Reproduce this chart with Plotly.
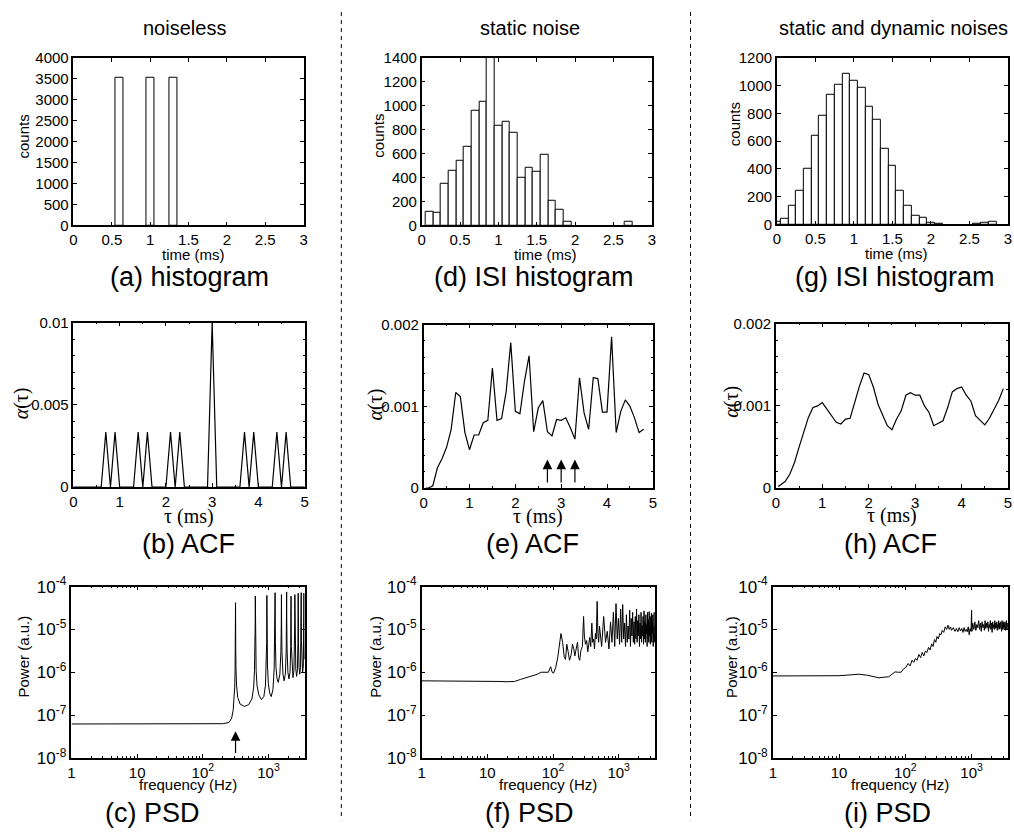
import plotly.graph_objects as go
import numpy as np

W, H = 1014, 840
SANS = "Liberation Sans, Arial, Helvetica, sans-serif"
SERIF = "Liberation Serif, Times New Roman, serif"

# ---------------- data ----------------
# (a) noiseless histogram
hist_a_t = [0.6, 1.0, 1.3]
hist_a_n = [3530, 3530, 3530]

# (d) static-noise ISI histogram
hist_d_t = [0.1, 0.2, 0.3, 0.4, 0.5, 0.6, 0.7, 0.8, 0.9, 1.0, 1.1, 1.2, 1.3, 1.4, 1.5,
            1.6, 1.7, 1.8, 1.9, 2.7]
hist_d_n = [114, 103, 345, 459, 535, 658, 957, 1030, 1400, 829, 862, 769, 397, 484, 443,
            590, 201, 130, 27, 27]

# (g) static + dynamic noise ISI histogram
hist_g_t = [0.0, 0.1, 0.2, 0.3, 0.4, 0.5, 0.6, 0.7, 0.8, 0.9, 1.0, 1.1, 1.2, 1.3, 1.4,
            1.5, 1.6, 1.7, 1.8, 1.9, 2.0, 2.1, 2.6, 2.7, 2.8]
hist_g_n = [15, 37, 136, 243, 402, 641, 781, 936, 1008, 1083, 1032, 982, 844, 753, 545,
            421, 243, 136, 65, 47, 12, 5, 6, 10, 17]

# (b) ACF noiseless
tau_b = [0.0, 0.1, 0.2, 0.3, 0.4, 0.5, 0.6, 0.7, 0.8, 0.9, 1.0, 1.1, 1.2, 1.3, 1.4, 1.5,
         1.6, 1.7, 1.8, 1.9, 2.0, 2.1, 2.2, 2.3, 2.4, 2.5, 2.6, 2.7, 2.8, 2.9, 3.0, 3.1,
         3.2, 3.3, 3.4, 3.5, 3.6, 3.7, 3.8, 3.9, 4.0, 4.1, 4.2, 4.3, 4.4, 4.5, 4.6, 4.7,
         4.8, 4.9, 5.0]
acf_b = [0, 0, 0, 0, 0, 0, 0, 0.00335, 0, 0.00335, 0, 0, 0, 0, 0.00335, 0,
         0.00335, 0, 0, 0, 0, 0.00335, 0, 0.00335, 0, 0, 0, 0, 0, 0, 0.01, 0,
         0, 0, 0, 0, 0, 0.00335, 0, 0.00335, 0, 0, 0, 0, 0.00335, 0, 0.00335, 0,
         0, 0, 0]

# (e) ACF static noise
tau_e = [0.05, 0.1, 0.2, 0.3, 0.4, 0.5, 0.6, 0.7, 0.8, 0.9, 1.0, 1.1, 1.2, 1.3, 1.4, 1.5,
         1.6, 1.7, 1.8, 1.9, 2.0, 2.1, 2.2, 2.3, 2.4, 2.5, 2.6, 2.7, 2.8, 2.9, 3.0, 3.1,
         3.2, 3.3, 3.4, 3.5, 3.6, 3.7, 3.8, 3.9, 4.0, 4.1, 4.2, 4.3, 4.4, 4.5, 4.6, 4.7, 4.8]
acf_e = [0, 0, 0.00003, 0.00025, 0.00036, 0.0005, 0.00072, 0.00117, 0.00112, 0.00068,
         0.00047, 0.00065, 0.00065, 0.0008, 0.00083, 0.00147, 0.00083, 0.00085, 0.00118,
         0.00178, 0.00094, 0.00091, 0.00131, 0.00162, 0.00069, 0.00098, 0.00107, 0.00069,
         0.00064, 0.00084, 0.00083, 0.00086, 0.00074, 0.0006, 0.00135, 0.00092, 0.00072,
         0.00135, 0.00134, 0.00093, 0.00093, 0.00185, 0.00068, 0.00094, 0.00108, 0.001,
         0.00086, 0.00068, 0.00072]
arrows_e_tau = [2.7, 3.0, 3.3]

# (h) ACF static + dynamic noise
tau_h = [0.05, 0.1, 0.2, 0.3, 0.4, 0.5, 0.6, 0.7, 0.8, 0.9, 1.0, 1.1, 1.2, 1.3, 1.4, 1.5,
         1.6, 1.7, 1.8, 1.9, 2.0, 2.1, 2.2, 2.3, 2.4, 2.5, 2.6, 2.7, 2.8, 2.9, 3.0, 3.1,
         3.2, 3.3, 3.4, 3.5, 3.6, 3.7, 3.8, 3.9, 4.0, 4.1, 4.2, 4.3, 4.4, 4.5, 4.6, 4.7,
         4.8, 4.9]
acf_h = [0.00002, 0.00004, 0.00008, 0.00017, 0.00031, 0.0005, 0.00067, 0.00086, 0.00098,
         0.001, 0.00104, 0.00096, 0.00087, 0.0008, 0.00078, 0.00084, 0.00085, 0.00106,
         0.00124, 0.0014, 0.00138, 0.00123, 0.00102, 0.00089, 0.00076, 0.00071, 0.00084,
         0.00094, 0.00113, 0.00116, 0.00113, 0.00113, 0.001, 0.00092, 0.00076, 0.00079,
         0.00082, 0.00098, 0.00117, 0.00121, 0.00123, 0.00113, 0.00106, 0.00088, 0.00082,
         0.00077, 0.00085, 0.00096, 0.00107, 0.00121]

# (c) PSD noiseless
psd_c_f = [1, 10, 100, 200, 250, 275, 290, 300, 306, 310, 313, 315, 317, 320, 326, 340, 370, 430,
           500, 560, 595, 612, 622, 627, 630, 633, 638, 648, 670, 710, 780,
           850, 900, 925, 938, 945, 952, 965, 995, 1040, 1100,
           1170, 1220, 1245, 1260, 1275, 1300, 1350, 1410,
           1490, 1545, 1565, 1575, 1585, 1605, 1660, 1730,
           1810, 1862, 1881, 1890, 1899, 1918, 1975, 2050,
           2130, 2180, 2197, 2205, 2213, 2230, 2290, 2360,
           2440, 2495, 2512, 2520, 2528, 2545, 2605, 2680,
           2760, 2810, 2827, 2835, 2843, 2860, 2920, 2990,
           3075, 3125, 3142, 3150, 3158, 3175, 3235, 3305,
           3390, 3440, 3457, 3465, 3473, 3490, 3520]
psd_c_p = [6.2e-8, 6.2e-8, 6.2e-8, 6.3e-8, 6.7e-8, 8.5e-8, 1.3e-7, 2.3e-7, 4.5e-7, 1.1e-6, 4e-6,
           4.2e-5, 4e-6, 1.2e-6, 5e-7, 2.6e-7, 1.8e-7, 1.6e-7,
           1.75e-7, 2.4e-7, 4.5e-7, 1.1e-6, 3.5e-6, 1.2e-5, 6e-5, 1.2e-5, 3.5e-6, 1.1e-6, 4.8e-7, 3e-7, 2.3e-7,
           2.7e-7, 5e-7, 1.4e-6, 5e-6, 6.2e-5, 5e-6, 1.4e-6, 5.5e-7, 3.3e-7, 2.7e-7,
           4e-7, 1.2e-6, 5e-6, 7.2e-5, 5e-6, 1.3e-6, 7e-7, 5.8e-7,
           9e-7, 3e-6, 1.2e-5, 6.5e-5, 1.2e-5, 3e-6, 9e-7, 6.3e-7,
           9.5e-7, 3.5e-6, 1.4e-5, 7.5e-5, 1.4e-5, 3.5e-6, 1e-6, 7e-7,
           1e-6, 4e-6, 1.5e-5, 6e-5, 1.5e-5, 4e-6, 1.1e-6, 7.5e-7,
           1.1e-6, 4.5e-6, 1.6e-5, 6.5e-5, 1.6e-5, 4.5e-6, 1.2e-6, 8e-7,
           1.2e-6, 5e-6, 1.8e-5, 7e-5, 1.8e-5, 5e-6, 1.3e-6, 9e-7,
           1.3e-6, 5.5e-6, 2e-5, 7.2e-5, 2e-5, 5.5e-6, 1.4e-6, 1e-6,
           1.4e-6, 6e-6, 2e-5, 7e-5, 2e-5, 6e-6, 2e-6]
arrow_c_f = 315

# (f) PSD static noise (power in units of 1e-6)
psd_f_f = [1, 5, 10, 15, 20, 26, 32, 40, 50, 58, 66, 75, 85, 92, 97, 102, 110, 118, 125, 132,
           140, 148, 155, 162, 170, 178, 188, 198, 207, 215, 225, 236, 245, 255, 265, 280, 292,
           300, 312, 325, 338, 350, 362, 375, 390, 402, 415, 428, 442, 455, 470, 482, 495,
           510, 550, 590, 630, 670, 710, 750, 790, 830, 870, 910, 950, 990, 1030, 1070, 1110,
           1150, 1190, 1230, 1270, 1310, 1350, 1390, 1430, 1470, 1510, 1550, 1590, 1630, 1670,
           1710, 1750, 1790, 1830, 1870, 1910, 1950, 1990, 2030, 2070, 2110, 2150, 2190, 2230,
           2270, 2310, 2350, 2390, 2430, 2470, 2510, 2550, 2590, 2630, 2670, 2710, 2750, 2790,
           2830, 2870, 2910, 2950, 2990, 3030, 3070, 3110, 3150, 3190, 3230, 3270, 3310, 3350,
           3390, 3430, 3470, 3510, 3550]
psd_f_uP = [0.63, 0.63, 0.63, 0.61, 0.60, 0.61, 0.68, 0.76, 0.82, 0.9, 1.0, 1.02, 1.0, 1.35,
            1.0, 0.95, 1.3, 2.2, 4, 8, 5, 2.3, 2, 4.5, 3, 1.9, 2.5, 4.5, 3.5, 2.4, 3.5, 5, 2.2,
            1.9, 3.2, 4, 20, 7, 4.5, 5.5, 3, 4.5, 6.5, 4, 14, 5, 6, 3.5, 8, 6, 45, 8, 5,
            12, 4, 20, 5, 9, 3.5, 15, 5, 25, 4, 40, 6, 18, 4.5, 30, 5, 38, 6, 14, 4,
            22, 5, 12, 6, 28, 4, 18, 7, 25, 5, 15, 4.5, 20, 6, 30, 5, 16, 7, 22, 4,
            14, 6, 25, 5, 12, 7, 20, 4.5, 27, 6, 15, 5, 22, 8, 13, 4, 25, 6, 17, 5,
            26, 7, 12, 4.5, 20, 6, 24, 5, 14, 8, 22, 4, 18, 6, 25, 5, 12]

# (i) PSD static + dynamic noise (power in units of 1e-6)
psd_i_f = [1, 5, 10, 15, 20, 27, 33, 40, 48, 56, 63, 70, 78, 86, 94, 102, 110, 118, 126, 134,
           142, 150, 160, 170, 180, 190, 200, 212, 224, 236, 250, 262, 275, 288, 300, 315, 330,
           345, 360, 380, 400, 420, 440, 460, 480, 500, 530, 560, 590, 620, 650, 680, 710, 740,
           770, 800, 830, 860, 890, 920, 950, 980, 1000, 1010,
           1040, 1080, 1120, 1160, 1200, 1240, 1280, 1320, 1360, 1400, 1440, 1480, 1520, 1560,
           1600, 1640, 1680, 1720, 1760, 1800, 1840, 1880, 1920, 1960, 2000, 2040, 2080, 2120,
           2160, 2200, 2240, 2280, 2320, 2360, 2400, 2440, 2480, 2520, 2560, 2600, 2640, 2680,
           2720, 2760, 2800, 2840, 2880, 2920, 2960, 3000, 3040, 3080, 3120, 3160, 3200, 3240,
           3280, 3320, 3360, 3400, 3440, 3480, 3520, 3560]
psd_i_uP = [0.82, 0.82, 0.83, 0.87, 0.9, 0.85, 0.78, 0.74, 0.77, 0.78, 0.9, 1.02, 1.0, 1.0,
            1.2, 1.3, 1.6, 1.4, 1.9, 1.7, 2.1, 1.9, 2.6, 2.2, 2.9, 2.4, 3.1, 2.9, 3.8, 3.3,
            4.6, 4, 5.8, 5, 6.8, 6, 8, 7.5, 9.5, 8.5, 11.5, 10, 12.5, 10, 11.5, 9.5, 11, 9,
            10.5, 8.8, 11, 9.2, 10.5, 8.5, 11, 9, 10, 8.8, 11.5, 7.5, 10.5, 9, 28, 9,
            14, 10, 15, 9.5, 13, 11, 16, 10, 14, 9, 15, 11, 13, 9.5, 16, 10.5, 14, 11, 15, 9,
            13, 11, 16, 10, 14, 8.5, 15, 11, 13, 10, 16, 10.5, 14, 11, 15, 9.5, 13, 11, 16, 10,
            14, 10.5, 15, 11, 13, 9, 16, 10, 14, 11, 15, 10, 13, 11, 15, 9.5, 14, 11, 16, 10,
            14, 11, 13, 10]

# ---------------- layout helpers ----------------
def dom_x(x0, x1):
    return [x0 / W, x1 / W]

def dom_y(y0, y1):
    return [1 - y1 / H, 1 - y0 / H]

def axis(**kw):
    base = dict(showline=True, linecolor="black", linewidth=1.5, mirror="allticks",
                ticks="inside", ticklen=4, tickwidth=1, tickcolor="black",
                showgrid=False, zeroline=False,
                tickfont=dict(family=SANS, size=15, color="black"))
    base.update(kw)
    return base

panels = {
    1: ([70, 302], [47, 219]),
    2: ([421, 653], [47, 219]),
    3: ([779, 1012], [47, 218]),
    4: ([70, 303], [319, 488]),
    5: ([423, 654], [321, 489]),
    6: ([778, 1012], [320, 489]),
    7: ([68, 303], [590, 766]),
    8: ([421, 656], [590, 766]),
    9: ([775, 1012], [590, 766]),
}

fig = go.Figure()

def ids(k):
    return ("x" if k == 1 else f"x{k}"), ("y" if k == 1 else f"y{k}")

bar_style = dict(marker=dict(color="white", line=dict(color="black", width=1)), width=0.1)
line_style = dict(mode="lines", line=dict(color="black", width=1.2))

for k, (tx, ny) in zip([1, 2, 3], [(hist_a_t, hist_a_n), (hist_d_t, hist_d_n), (hist_g_t, hist_g_n)]):
    xa, ya = ids(k)
    fig.add_trace(go.Bar(x=tx, y=ny, xaxis=xa, yaxis=ya, **bar_style))

for k, (tx, ny) in zip([4, 5, 6], [(tau_b, acf_b), (tau_e, acf_e), (tau_h, acf_h)]):
    xa, ya = ids(k)
    fig.add_trace(go.Scatter(x=tx, y=ny, xaxis=xa, yaxis=ya, **line_style))

psd_sets = [(psd_c_f, psd_c_p),
            (psd_f_f, list(np.array(psd_f_uP) * 1e-6)),
            (psd_i_f, list(np.array(psd_i_uP) * 1e-6))]
for k, (fx, py) in zip([7, 8, 9], psd_sets):
    xa, ya = ids(k)
    fig.add_trace(go.Scatter(x=fx, y=py, xaxis=xa, yaxis=ya, mode="lines",
                             line=dict(color="black", width=1)))

layout = dict(width=W, height=H, margin=dict(l=0, r=0, t=0, b=0),
              paper_bgcolor="white", plot_bgcolor="white", showlegend=False,
              bargap=0)

hist_yr = {1: (4000, 500), 2: (1400, 200), 3: (1200, 200)}
for k in range(1, 10):
    xd, yd = panels[k]
    xa, ya = ids(k)
    xkey = "xaxis" if k == 1 else f"xaxis{k}"
    ykey = "yaxis" if k == 1 else f"yaxis{k}"
    if k <= 3:
        top, dt = hist_yr[k]
        layout[xkey] = axis(domain=dom_x(*xd), anchor=ya, range=[0, 3], dtick=0.5, tick0=0)
        layout[ykey] = axis(domain=dom_y(*yd), anchor=xa, range=[0, top], dtick=dt, tick0=0)
    elif k <= 6:
        layout[xkey] = axis(domain=dom_x(*xd), anchor=ya, range=[0, 5], dtick=1, tick0=0,
                            minor=dict(ticks="inside", ticklen=2, dtick=0.5, tickcolor="black"))
        if k == 4:
            layout[ykey] = axis(domain=dom_y(*yd), anchor=xa, range=[0, 0.01],
                                tickvals=[0, 0.005, 0.01], ticktext=["0", "0.005", "0.01"],
                                minor=dict(ticks="inside", ticklen=2, dtick=0.001, tickcolor="black"))
        else:
            layout[ykey] = axis(domain=dom_y(*yd), anchor=xa, range=[0, 0.002],
                                tickvals=[0, 0.001, 0.002], ticktext=["0", "0.001", "0.002"],
                                minor=dict(ticks="inside", ticklen=2, dtick=0.0002, tickcolor="black"))
    else:
        layout[xkey] = axis(domain=dom_x(*xd), anchor=ya, type="log", range=[0, 3.55],
                            tickvals=[1, 10, 100, 1000],
                            ticktext=["1", "10", "10<sup>2</sup>", "10<sup>3</sup>"],
                            minor=dict(ticks="inside", ticklen=2, dtick="D1", tickcolor="black"))
        layout[ykey] = axis(domain=dom_y(*yd), anchor=xa, type="log", range=[-8, -4],
                            tickvals=[1e-8, 1e-7, 1e-6, 1e-5, 1e-4],
                            ticktext=["10<sup>-8</sup>", "10<sup>-7</sup>", "10<sup>-6</sup>",
                                      "10<sup>-5</sup>", "10<sup>-4</sup>"],
                            tickfont=dict(family=SANS, size=17, color="black"))

def txt(x, y, s, size, angle=0, family=SANS):
    return dict(x=x / W, y=1 - y / H, xref="paper", yref="paper", text=s, showarrow=False,
                font=dict(family=family, size=size, color="black"), textangle=angle,
                xanchor="center", yanchor="middle")

ann = []
# column headers
ann += [txt(182, 16, "noiseless", 20), txt(530, 16, "static noise", 20),
        txt(897, 16, "static and dynamic noises", 20)]
# row 1 axis titles & captions
row1 = [((20, 128), (191, 249), (187, 272), "(a) histogram"),
        ((378, 127), (546, 249), (534, 272), "(d) ISI histogram"),
        ((737, 115), (900, 248), (898, 272), "(g) ISI histogram")]
for (cx, cy), (tx_, ty_), (px, py), cap in row1:
    ann.append(txt(cx, cy, "counts", 15, angle=-90))
    ann.append(txt(tx_, ty_, "time (ms)", 15))
    ann.append(txt(px, py, cap, 27))
row2 = [((18, 402), (186, 518), (186, 546), "(b) ACF"),
        ((374, 403), (538, 518), (533, 546), "(e) ACF"),
        ((733, 400), (895, 517), (894, 546), "(h) ACF")]
for (cx, cy), (tx_, ty_), (px, py), cap in row2:
    ann.append(txt(cx, cy, "<i>α</i>(τ)", 20, angle=-90, family=SERIF))
    ann.append(txt(tx_, ty_, "τ (ms)", 20, family=SERIF))
    ann.append(txt(px, py, cap, 27))
row3 = [((20, 662), (185, 793), (150, 823), "(c) PSD"),
        ((375, 662), (548, 793), (530, 823), "(f) PSD"),
        ((733, 662), (903, 793), (891, 823), "(i) PSD")]
for (cx, cy), (tx_, ty_), (px, py), cap in row3:
    ann.append(txt(cx, cy, "Power (a.u.)", 15, angle=-90))
    ann.append(txt(tx_, ty_, "frequency (Hz)", 15))
    ann.append(txt(px, py, cap, 27))

# arrows
arrow_style = dict(showarrow=True, arrowhead=2, arrowsize=1.6, arrowwidth=1.2, arrowcolor="black",
                   text="")
ann.append(dict(x=np.log10(arrow_c_f), y=np.log10(4.2e-8), xref="x7", yref="y7",
                ax=np.log10(arrow_c_f), ay=np.log10(1.2e-8), axref="x7", ayref="y7",
                **arrow_style))
for t in arrows_e_tau:
    ann.append(dict(x=t, y=0.00035, xref="x5", yref="y5", ax=t, ay=0.00005,
                    axref="x5", ayref="y5", **arrow_style))
layout["annotations"] = ann

# dashed separators
layout["shapes"] = [dict(type="line", xref="paper", yref="paper", x0=xs / W, x1=xs / W,
                         y0=1, y1=1 - 830 / H,
                         line=dict(color="black", width=1, dash="4px,4px"))
                    for xs in (340, 692)]

fig.update_layout(**layout)
fig.write_html("out.html")
